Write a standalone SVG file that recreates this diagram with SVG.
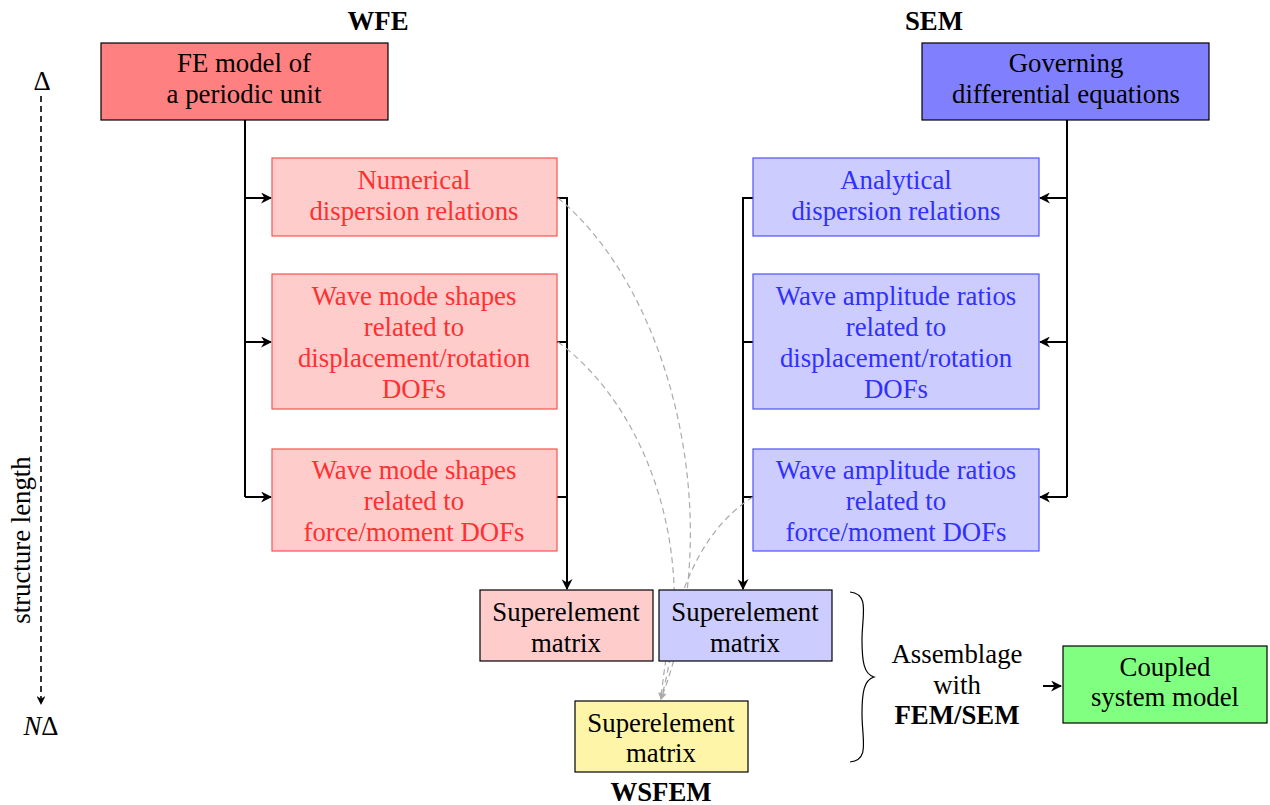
<svg xmlns="http://www.w3.org/2000/svg" width="1270" height="805" viewBox="0 0 1270 805">
<style>
text{font-family:'Liberation Serif','DejaVu Serif',serif;font-size:26.8px;text-anchor:middle}
.b{font-weight:bold}
.r{fill:#ff3030}
.u{fill:#3030ff}
.box{stroke:#000;stroke-width:1.2}
.lr{fill:#ffcccc;stroke:#ff5050;stroke-width:1.2}
.lb{fill:#ccccff;stroke:#5050ff;stroke-width:1.2}
.ln{fill:none;stroke:#000;stroke-width:2}
.dg{fill:none;stroke:#aaa;stroke-width:1.2;stroke-dasharray:6,4}
</style>
<defs>
<marker id="ah" viewBox="0 0 10 10" refX="9" refY="5" markerWidth="5.5" markerHeight="5.5" orient="auto"><path d="M0,0 L10,5 L0,10 L3,5 Z" fill="#000"/></marker>
<marker id="ag" viewBox="0 0 10 10" refX="9" refY="5" markerWidth="6" markerHeight="6" orient="auto"><path d="M0,0 L10,5 L0,10 L3,5 Z" fill="#aaa"/></marker>
</defs>
<g id="titles">
<text class="b" x="378" y="30">WFE</text>
<text class="b" x="934" y="30">SEM</text>
<text class="b" x="661" y="801">WSFEM</text>
</g>
<g id="axis">
<text x="42" y="90">Δ</text>
<text x="41" y="735"><tspan font-style="italic">N</tspan>Δ</text>
<line x1="41" y1="96" x2="41" y2="704" stroke="#000" stroke-width="1.6" stroke-dasharray="6,4" marker-end="url(#ah)"/>
<text transform="translate(30,540) rotate(-90)">structure length</text>
</g>
<g id="connectors">
<path class="ln" d="M245,120 V497"/>
<path class="ln" d="M245,198 H271" marker-end="url(#ah)"/>
<path class="ln" d="M245,342 H271" marker-end="url(#ah)"/>
<path class="ln" d="M245,497 H271" marker-end="url(#ah)"/>
<path class="ln" d="M557,198 H567 M557,342 H567 M557,497 H567"/>
<path class="ln" d="M567,197 V589" marker-end="url(#ah)"/>
<path class="ln" d="M1067,120 V497"/>
<path class="ln" d="M1067,198 H1040" marker-end="url(#ah)"/>
<path class="ln" d="M1067,342 H1040" marker-end="url(#ah)"/>
<path class="ln" d="M1067,497 H1040" marker-end="url(#ah)"/>
<path class="ln" d="M753,198 H743 M753,342 H743 M753,497 H743"/>
<path class="ln" d="M743,197 V589" marker-end="url(#ah)"/>
<path class="dg" d="M558,198 C670,290 730,520 661,699" marker-end="url(#ag)"/>
<path class="dg" d="M558,342 C650,410 700,560 661,699" marker-end="url(#ag)"/>
<path class="dg" d="M753,497 C700,530 670,600 661,699" marker-end="url(#ag)"/>
<path fill="none" stroke="#000" stroke-width="1.2" d="M850,592 C870,594 862,615 862,640 C862,662 864,674 874,677 C864,680 862,692 862,714 C862,740 870,760 850,762"/>
<path class="ln" d="M1043,686 H1061" stroke-width="1.6" marker-end="url(#ah)"/>
</g>
<g id="fe"><rect class="box" x="101" y="43" width="287" height="77" fill="#ff8080"/><text x="244" y="72">FE model of</text><text x="244" y="103">a periodic unit</text></g>
<g id="gov"><rect class="box" x="922" y="43" width="287" height="77" fill="#8080ff"/><text x="1066" y="72">Governing</text><text x="1066" y="103">differential equations</text></g>
<g id="num"><rect class="lr" x="272" y="158" width="285" height="78"/><text class="r" x="414" y="189">Numerical</text><text class="r" x="414" y="220">dispersion relations</text></g>
<g id="wms1"><rect class="lr" x="272" y="274" width="285" height="135"/><text class="r" x="414" y="305">Wave mode shapes</text><text class="r" x="414" y="336">related to</text><text class="r" x="414" y="367">displacement/rotation</text><text class="r" x="414" y="398">DOFs</text></g>
<g id="wms2"><rect class="lr" x="272" y="449" width="285" height="102"/><text class="r" x="414" y="479">Wave mode shapes</text><text class="r" x="414" y="510">related to</text><text class="r" x="414" y="541">force/moment DOFs</text></g>
<g id="ana"><rect class="lb" x="753" y="158" width="286" height="78"/><text class="u" x="896" y="189">Analytical</text><text class="u" x="896" y="220">dispersion relations</text></g>
<g id="war1"><rect class="lb" x="753" y="274" width="286" height="135"/><text class="u" x="896" y="305">Wave amplitude ratios</text><text class="u" x="896" y="336">related to</text><text class="u" x="896" y="367">displacement/rotation</text><text class="u" x="896" y="398">DOFs</text></g>
<g id="war2"><rect class="lb" x="753" y="449" width="286" height="102"/><text class="u" x="896" y="479">Wave amplitude ratios</text><text class="u" x="896" y="510">related to</text><text class="u" x="896" y="541">force/moment DOFs</text></g>
<g id="se1"><rect class="box" x="480" y="590" width="173" height="71" fill="#ffcccc"/><text x="566" y="621">Superelement</text><text x="566" y="652">matrix</text></g>
<g id="se2"><rect class="box" x="659" y="590" width="173" height="71" fill="#ccccff"/><text x="745" y="621">Superelement</text><text x="745" y="652">matrix</text></g>
<g id="se3"><rect class="box" x="575" y="701" width="173" height="71" fill="#fff5a8"/><text x="661" y="732">Superelement</text><text x="661" y="762">matrix</text></g>
<g id="assem"><text x="957" y="663">Assemblage</text><text x="957" y="694">with</text><text class="b" x="957" y="724">FEM/SEM</text></g>
<g id="coupled"><rect class="box" x="1063" y="646" width="204" height="77" fill="#80ff80"/><text x="1165" y="676">Coupled</text><text x="1165" y="706">system model</text></g>
</svg>
